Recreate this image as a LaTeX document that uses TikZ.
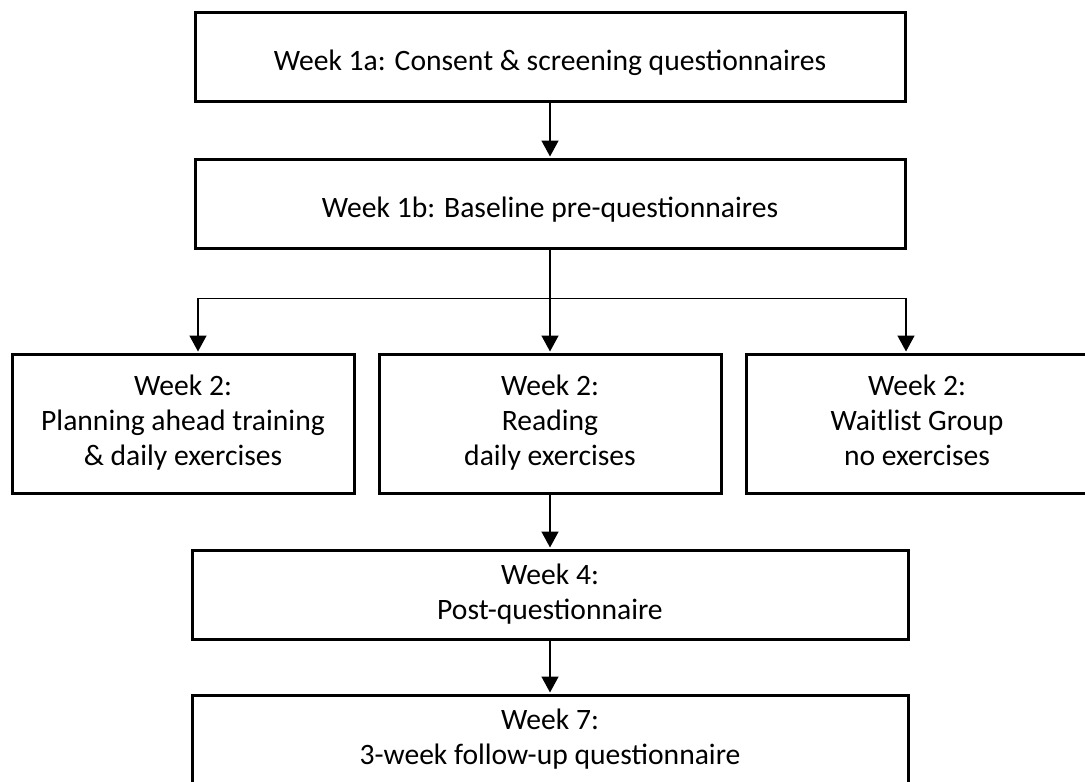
\documentclass[tikz,border=0pt]{standalone}
\usepackage{fontspec}
\setmainfont{Carlito}
\usepackage{tikz}
\usetikzlibrary{arrows.meta,positioning,calc}
\newcommand{\wktop}{\rule{0pt}{16.75pt}}
\newcommand{\wkbot}{\rule[-3.5pt]{0pt}{3.5pt}}
\tikzset{
  wkbox/.style={draw, line width=1.5pt, align=center, inner sep=0pt, outer sep=0pt,
                minimum height=44.5pt, font=\fontsize{14.8pt}{17.5pt}\selectfont,
                execute at begin node=\wktop, execute at end node=\wkbot},
  armbox/.style={wkbox, minimum width=171pt, minimum height=69.5pt},
  flow/.style={-{Triangle[width=8.5pt,length=8pt]}, line width=0.8pt, shorten >=1.5pt},
}
\begin{document}
\begin{tikzpicture}[node distance=29pt and 12.5pt]
    \useasboundingbox (0,0) rectangle (542.5pt,-390.5pt);
    \clip (0,0) rectangle (542.5pt,-390.5pt);
    \node[wkbox, minimum width=355pt] (consent) at (275pt,-28.5pt)
      {Week 1a: Consent \& screening questionnaires};
    \node[wkbox, minimum width=355pt, below=of consent] (baseline)
      {Week 1b: Baseline pre-questionnaires};
    \node[armbox, below=53pt of baseline] (reading) {Week 2:\\Reading\\daily exercises};
    \node[armbox, left=of reading] (planning) {Week 2:\\Planning ahead training\\\& daily exercises};
    \node[armbox, right=of reading] (waitlist) {Week 2:\\Waitlist Group\\no exercises};
    \node[wkbox, minimum width=358pt, below=28.5pt of reading] (post)
      {Week 4:\\Post-questionnaire};
    \node[wkbox, minimum width=358pt, below=28pt of post] (followup)
      {Week 7:\\3-week follow-up questionnaire};
    \coordinate (split) at ($(baseline.south)!0.47!(reading.north)$);
    \draw[flow] (consent) -- (baseline);
    \draw[line width=0.8pt] (baseline) -- (split);
    \draw[flow] (split) -| ([xshift=7.5pt]planning.north);
    \draw[flow] (split) -- (reading);
    \draw[flow] (split) -| ([xshift=-5.5pt]waitlist.north);
    \draw[flow] (reading) -- (reading |- post.north);
    \draw[flow] (post) -- (post |- followup.north);
  \end{tikzpicture}
\end{document}
